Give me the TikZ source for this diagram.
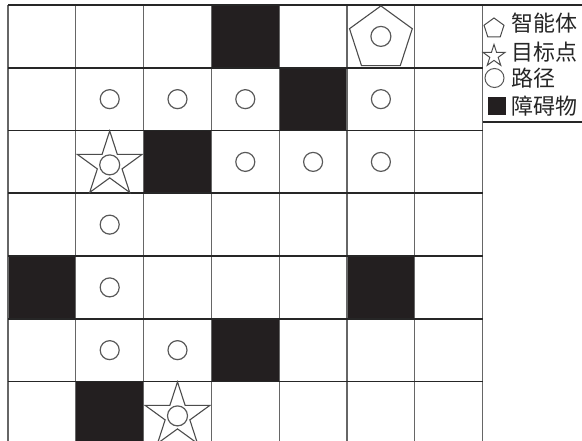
\documentclass[tikz,border=0pt]{standalone}
\usepackage{fontspec}
\newfontfamily\cjk{Noto Sans CJK SC}
\usetikzlibrary{shapes.geometric,positioning}
\definecolor{wallc}{RGB}{35,31,32}

\begin{document}
\begin{tikzpicture}[x=1pt,y=-1pt,
cell/.style={rectangle,minimum width=67.8pt,minimum height=62.75pt,inner sep=0pt,outer sep=0pt},
colline/.style={draw=black!60,line width=1.1pt},
rowline/.style={draw=black!85,line width=1.8pt},
wall/.style={fill=wallc},
dot/.style={circle,draw=black!65,line width=1.2pt,minimum size=19pt,inner sep=0pt},
goal/.style={star,star points=5,star point ratio=2.618,draw=black!70,line width=1.1pt,minimum size=68pt,inner sep=0pt},
agent/.style={regular polygon,regular polygon sides=5,draw=black!70,line width=1.1pt,minimum size=66pt,inner sep=0pt},
entry/.style={font=\cjk\fontsize{22}{22}\selectfont,text=black!85,inner sep=0pt,anchor=west}]
\useasboundingbox (0,0) rectangle (582,441);
\clip (0,0) rectangle (582,441);
\fill[white] (0,0) rectangle (582,441);
\foreach \r in {0,...,6}
  \foreach \c in {0,...,6}
    \node[cell] (c-\r-\c) at (41.9+67.8*\c,36.4+62.75*\r) {};
\foreach \r/\c in {0/3,1/4,2/2,4/0,4/5,5/3,6/1}
  \fill[wall] (c-\r-\c.north west) rectangle (c-\r-\c.south east);
\foreach \k in {0,...,7}
  \draw[colline] (8+67.8*\k,5) -- (8+67.8*\k,444);
\foreach \k in {0,...,7}
  \draw[rowline] (8,5+62.75*\k) -- (482.6,5+62.75*\k);
\foreach \r/\c in {1/1,1/2,1/3,1/5,2/3,2/4,2/5,3/1,4/1,5/1,5/2}
  \node[dot] (d-\r-\c) at (c-\r-\c) {};
\node[agent,yshift=-2.5pt] (agent) at (c-0-5) {};
\node[dot,minimum size=20pt] (d-0-5) at (c-0-5) {};
\node[goal,yshift=-3pt] (goal-a) at (c-2-1) {};
\node[dot,minimum size=20pt] (d-2-1) at (goal-a) {};
\node[goal,yshift=-3pt] (goal-b) at (c-6-2) {};
\node[dot,minimum size=20pt] (d-6-2) at (goal-b) {};
\draw[rowline] (482.6,5) -- (590,5);
\draw[rowline] (482.6,122) -- (590,122);
\node[agent,minimum size=21pt,line width=1pt] (key-agent) at (494,28.5) {};
\node[goal,minimum size=23pt,line width=1pt] (key-goal) at (494,56) {};
\node[dot,line width=1pt] (key-path) at (494.5,78) {};
\node[rectangle,fill=wallc,minimum size=18pt,inner sep=0pt] (key-wall) at (497,106) {};
\node[entry] (txt-agent) at (511,23.5) {智能体};
\node[entry] (txt-goal) at (511,52) {目标点};
\node[entry] (txt-path) at (511,78.5) {路径};
\node[entry] (txt-wall) at (511,106.5) {障碍物};
\end{tikzpicture}
\end{document}
